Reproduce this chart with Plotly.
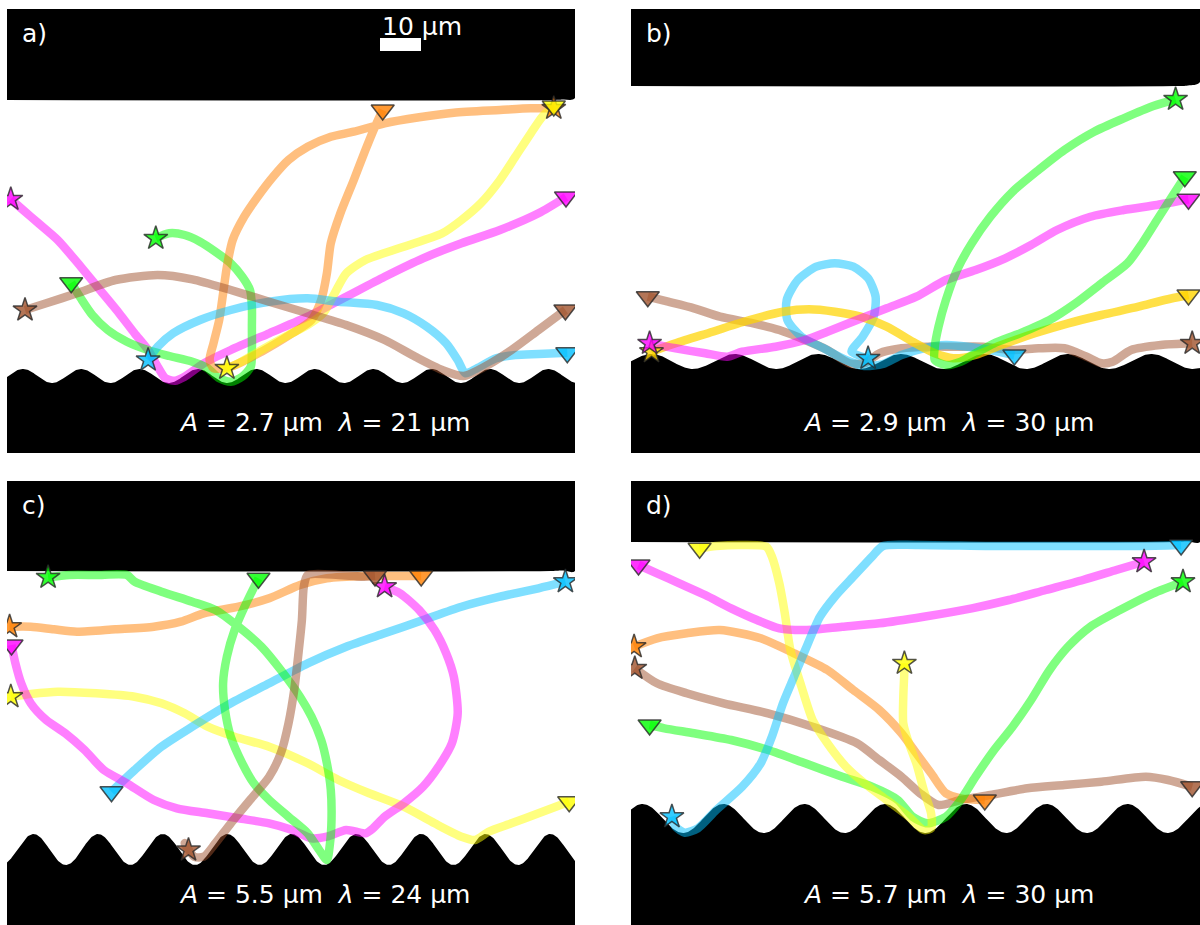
import numpy as np
import plotly.graph_objects as go

# ---------------------------------------------------------------------------
# Bacterial swimming tracks between a flat wall (top) and a corrugated wall
# (bottom).  Track coordinates are micrograph pixels inside each panel
# (x to the right, y downward).  First point = start (star), last = end (triangle).
# ---------------------------------------------------------------------------

PANEL_LABELS = ["a)", "b)", "c)", "d)"]
AMPLITUDES_UM = [2.7, 2.9, 5.5, 5.7]
WAVELENGTHS_UM = [21, 30, 24, 30]
SCALE_BAR_UM = 10
PX_PER_UM = 4.1

# ---- panel a --------------------------------------------------------------
a_magenta_x = [3.8, 16.1, 31.5, 50.7, 73.8, 93.0, 112.2, 127.6, 141.1, 150.7, 158.4, 168.0, 177.6, 196.8, 223.8, 262.2, 300.7, 339.2, 377.6, 416.0, 454.5, 493.0, 531.5, 559.0]
a_magenta_y = [190.3, 201.0, 214.3, 231.0, 257.7, 281.0, 304.3, 324.3, 341.0, 357.7, 369.3, 371.7, 367.7, 354.3, 341.0, 324.3, 307.7, 287.7, 267.7, 249.3, 234.3, 221.0, 204.3, 188.0]
a_green_x = [148.8, 162.2, 177.6, 193.0, 208.4, 223.8, 235.3, 243.0, 244.9, 244.9, 244.9, 243.8, 235.3, 223.8, 212.2, 200.7, 185.3, 162.2, 143.0, 119.9, 100.7, 85.3, 73.8, 64.2]
a_green_y = [229.3, 224.3, 226.0, 232.7, 242.7, 254.3, 267.7, 281.0, 297.7, 317.7, 341.0, 357.7, 367.7, 372.7, 369.3, 359.3, 352.7, 347.0, 341.7, 332.7, 321.0, 306.0, 289.3, 273.7]
a_orange_x = [546.8, 523.8, 493.0, 446.8, 412.2, 377.6, 346.8, 323.8, 300.7, 281.5, 266.1, 250.7, 237.2, 225.7, 219.9, 216.1, 212.2, 206.5, 202.6, 206.5, 223.8, 254.5, 285.3, 304.5, 314.2, 319.9, 323.8, 333.4, 346.8, 358.4, 368.0, 375.7]
a_orange_y = [99.3, 99.3, 101.0, 103.7, 108.3, 114.3, 122.7, 127.7, 137.7, 151.0, 167.7, 187.7, 207.7, 231.0, 257.7, 284.3, 311.0, 334.3, 351.0, 359.3, 357.7, 342.7, 324.3, 311.0, 291.0, 264.3, 234.3, 204.3, 171.0, 141.0, 117.7, 101.0]
a_yellow_x = [219.9, 231.5, 254.5, 281.5, 300.7, 316.1, 327.6, 339.2, 358.4, 396.8, 435.3, 454.5, 473.8, 493.0, 508.4, 523.8, 535.3, 546.8]
a_yellow_y = [359.3, 354.3, 341.0, 326.0, 316.0, 304.3, 284.3, 264.3, 251.0, 237.7, 224.3, 211.0, 194.3, 171.0, 147.7, 124.3, 107.7, 97.0]
a_cyan_x = [141.1, 150.7, 166.1, 193.0, 223.8, 262.2, 300.7, 331.5, 369.9, 396.8, 419.9, 439.2, 450.7, 458.4, 469.9, 489.2, 508.4, 531.5, 560.3]
a_cyan_y = [351.0, 337.7, 324.3, 311.0, 301.0, 292.7, 289.3, 292.7, 296.0, 304.3, 317.7, 334.3, 351.0, 364.3, 359.3, 349.3, 346.0, 345.0, 343.7]
a_brown_x = [18.0, 39.2, 69.9, 108.4, 150.7, 185.3, 223.8, 262.2, 300.7, 339.2, 377.6, 408.4, 435.3, 456.5, 477.6, 504.5, 531.5, 558.4]
a_brown_y = [301.0, 294.3, 284.3, 271.0, 266.0, 270.3, 281.0, 292.7, 304.3, 316.0, 331.0, 347.7, 361.0, 367.0, 357.7, 341.0, 321.0, 301.0]

# ---- panel b --------------------------------------------------------------
b_brown_x = [561.2, 529.7, 500.1, 481.6, 470.5, 455.7, 433.4, 407.5, 381.6, 352.0, 322.3, 296.4, 270.5, 248.3, 233.4, 218.6, 196.4, 174.2, 148.3, 122.3, 89.0, 63.1, 37.1, 16.8]
b_brown_y = [334.3, 336.0, 341.0, 352.7, 354.3, 347.7, 339.3, 339.3, 341.0, 337.7, 337.7, 337.7, 339.3, 344.3, 354.3, 354.3, 341.0, 331.0, 321.0, 314.3, 307.7, 299.3, 292.7, 287.7]
b_cyan_x = [237.1, 220.5, 231.6, 242.7, 244.6, 237.1, 222.3, 203.8, 185.3, 166.8, 155.7, 156.4, 170.5, 192.7, 214.9, 233.4, 252.0, 270.5, 292.7, 314.9, 337.1, 359.4, 383.4]
b_cyan_y = [349.3, 342.7, 327.7, 307.7, 287.7, 269.3, 257.7, 254.3, 257.7, 271.0, 291.0, 311.0, 327.7, 339.3, 351.0, 357.0, 355.0, 346.0, 339.3, 336.0, 337.7, 341.0, 346.0]
b_yellow_x = [20.5, 44.6, 81.6, 118.6, 152.0, 177.9, 203.8, 229.7, 255.7, 281.6, 303.8, 322.3, 344.6, 370.5, 403.8, 437.1, 470.5, 507.5, 533.4, 557.5]
b_yellow_y = [342.7, 334.3, 322.7, 311.0, 302.7, 300.3, 302.7, 307.7, 317.7, 332.7, 344.3, 349.3, 346.0, 336.0, 324.3, 314.3, 306.0, 297.7, 291.0, 286.0]
b_magenta_x = [18.6, 44.6, 74.2, 96.4, 111.2, 144.6, 174.2, 196.4, 226.0, 255.7, 285.3, 314.9, 344.6, 374.2, 400.1, 426.0, 459.4, 492.7, 526.0, 557.5]
b_magenta_y = [334.3, 339.3, 344.3, 347.7, 342.7, 337.7, 331.0, 322.7, 311.0, 299.3, 287.7, 271.0, 261.0, 249.3, 236.0, 221.0, 207.7, 201.0, 196.0, 190.3]
b_green_x = [544.6, 522.3, 492.7, 463.1, 433.4, 407.5, 381.6, 359.4, 340.8, 326.0, 314.9, 307.5, 303.8, 303.8, 314.9, 329.7, 344.6, 363.1, 389.0, 418.6, 444.6, 470.5, 496.4, 511.2, 526.0, 540.9, 553.8]
b_green_y = [90.3, 97.0, 109.3, 122.7, 141.0, 161.0, 182.7, 207.7, 234.3, 261.0, 291.0, 317.7, 337.7, 351.0, 356.0, 352.7, 344.3, 334.3, 324.3, 311.0, 294.3, 274.3, 254.3, 234.3, 211.0, 187.7, 167.7]

# ---- panel c --------------------------------------------------------------
c_orange_x = [2.6, 23.8, 46.8, 69.9, 108.4, 146.8, 173.8, 196.8, 231.5, 262.2, 293.0, 319.9, 358.4, 396.8, 414.2]
c_orange_y = [145.7, 145.7, 148.3, 150.7, 148.3, 145.7, 140.7, 132.3, 125.7, 117.3, 104.0, 97.3, 95.0, 95.0, 95.0]
c_yellow_x = [3.8, 23.8, 50.7, 89.2, 127.6, 154.5, 177.6, 200.7, 227.6, 262.2, 300.7, 331.5, 362.2, 396.8, 427.6, 454.5, 468.0, 481.5, 504.5, 531.5, 562.2]
c_yellow_y = [215.7, 213.0, 210.7, 212.3, 215.7, 222.3, 232.3, 245.7, 255.7, 265.7, 282.3, 299.0, 312.3, 325.7, 342.3, 355.7, 359.0, 350.7, 342.3, 332.3, 320.7]
c_cyan_x = [558.4, 531.5, 493.0, 454.5, 416.1, 377.6, 339.2, 300.7, 262.2, 223.8, 185.3, 154.5, 127.6, 104.5]
c_cyan_y = [100.7, 107.3, 115.7, 125.7, 139.0, 152.3, 165.7, 182.3, 202.3, 222.3, 245.7, 265.7, 289.0, 310.7]
c_magenta_x = [377.6, 393.0, 412.2, 427.6, 439.2, 446.8, 450.7, 444.9, 431.5, 416.1, 396.8, 377.6, 366.1, 358.4, 339.2, 319.9, 304.5, 285.3, 262.2, 231.5, 200.7, 169.9, 146.8, 119.9, 96.8, 77.6, 58.4, 39.2, 23.8, 14.2, 8.4, 4.5]
c_magenta_y = [105.7, 112.3, 129.0, 149.0, 172.3, 195.7, 232.3, 262.3, 285.7, 305.7, 322.3, 335.7, 347.3, 352.3, 349.0, 355.7, 357.3, 349.0, 342.3, 337.3, 332.3, 327.3, 319.0, 302.3, 289.0, 269.0, 252.3, 239.0, 222.3, 202.3, 182.3, 164.0]
c_green_x = [41.1, 62.2, 89.2, 119.9, 127.6, 154.5, 185.3, 208.4, 231.5, 254.5, 273.8, 293.0, 304.5, 314.2, 319.9, 323.8, 324.5, 323.0, 319.9, 312.2, 300.7, 281.5, 262.2, 246.8, 235.3, 223.8, 218.0, 216.1, 219.9, 227.6, 239.2, 251.5]
c_green_y = [96.3, 94.0, 94.0, 94.0, 100.7, 110.7, 120.7, 129.0, 145.7, 165.7, 189.0, 215.7, 235.7, 259.0, 282.3, 309.0, 339.0, 362.3, 379.0, 369.0, 352.3, 335.7, 319.0, 302.3, 282.3, 255.7, 229.0, 202.3, 175.7, 149.0, 122.3, 97.3]
c_brown_x = [181.5, 177.6, 187.2, 196.8, 208.4, 223.8, 243.0, 262.2, 273.8, 281.5, 287.2, 291.1, 294.9, 296.8, 300.7, 331.5, 354.5, 368.0]
c_brown_y = [369.0, 362.3, 375.7, 375.7, 362.3, 342.3, 319.0, 295.7, 272.3, 242.3, 209.0, 175.7, 139.0, 105.7, 94.0, 94.0, 95.7, 95.0]

# ---- panel d --------------------------------------------------------------
d_brown_x = [3.8, 26.0, 55.7, 92.7, 137.1, 181.6, 226.0, 248.3, 270.5, 289.0, 307.5, 329.7, 359.4, 396.4, 433.4, 470.5, 514.9, 537.1, 561.2]
d_brown_y = [187.3, 202.3, 212.3, 222.3, 232.3, 245.7, 262.3, 279.0, 295.7, 312.3, 324.0, 319.0, 314.0, 307.3, 304.0, 300.7, 295.7, 299.0, 305.7]
d_orange_x = [3.1, 26.0, 55.7, 89.0, 129.7, 163.1, 196.4, 222.3, 248.3, 270.5, 285.3, 300.1, 314.9, 329.7, 353.8]
d_orange_y = [165.7, 157.3, 152.3, 149.0, 157.3, 172.3, 189.0, 209.0, 229.0, 252.3, 272.3, 292.3, 312.3, 317.3, 319.0]
d_green_x = [552.0, 522.3, 489.0, 459.4, 437.1, 418.6, 400.1, 381.6, 363.1, 344.6, 329.7, 314.9, 296.4, 281.6, 266.8, 240.9, 211.2, 174.2, 137.1, 100.1, 63.1, 33.4, 18.6]
d_green_y = [100.7, 112.3, 129.0, 145.7, 165.7, 189.0, 219.0, 245.7, 269.0, 295.7, 319.0, 335.7, 342.3, 335.7, 319.0, 305.7, 295.7, 282.3, 269.0, 259.0, 252.3, 247.3, 244.0]
d_yellow_x = [273.4, 273.4, 272.3, 272.3, 277.9, 285.3, 292.7, 300.1, 300.1, 292.7, 277.9, 255.7, 233.4, 214.9, 196.4, 181.6, 170.5, 159.4, 153.8, 148.3, 140.9, 135.3, 111.2, 85.3, 68.6]
d_yellow_y = [182.3, 189.0, 215.7, 242.3, 262.3, 282.3, 309.0, 332.3, 347.3, 349.0, 335.7, 319.0, 302.3, 285.7, 262.3, 239.0, 205.7, 169.0, 132.3, 102.3, 75.7, 65.7, 64.0, 65.0, 67.3]
d_magenta_x = [513.1, 485.3, 452.0, 414.9, 377.9, 340.8, 292.7, 248.3, 211.2, 174.2, 148.3, 126.0, 100.1, 74.2, 48.3, 26.0, 7.5]
d_magenta_y = [80.7, 89.0, 99.0, 109.0, 119.0, 127.3, 135.7, 142.3, 145.7, 149.0, 147.3, 139.0, 127.3, 114.0, 102.3, 92.3, 84.0]
d_cyan_x = [40.9, 44.6, 53.8, 66.8, 85.3, 111.2, 129.7, 140.9, 152.0, 163.1, 174.2, 189.0, 203.8, 222.3, 240.9, 252.0, 285.3, 359.4, 433.4, 507.5, 550.1]
d_cyan_y = [335.7, 345.7, 351.7, 347.3, 329.0, 305.7, 282.3, 255.7, 222.3, 195.7, 169.0, 135.7, 115.7, 95.7, 75.7, 65.0, 64.0, 65.0, 65.0, 65.0, 64.0]

TRACKS = [
    [("magenta", a_magenta_x, a_magenta_y), ("green", a_green_x, a_green_y),
     ("orange", a_orange_x, a_orange_y), ("yellow", a_yellow_x, a_yellow_y),
     ("cyan", a_cyan_x, a_cyan_y), ("brown", a_brown_x, a_brown_y)],
    [("brown", b_brown_x, b_brown_y), ("cyan", b_cyan_x, b_cyan_y),
     ("gold", b_yellow_x, b_yellow_y), ("magenta", b_magenta_x, b_magenta_y),
     ("green", b_green_x, b_green_y)],
    [("orange", c_orange_x, c_orange_y), ("yellow", c_yellow_x, c_yellow_y),
     ("cyan", c_cyan_x, c_cyan_y), ("magenta", c_magenta_x, c_magenta_y),
     ("green", c_green_x, c_green_y), ("brown", c_brown_x, c_brown_y)],
    [("brown", d_brown_x, d_brown_y), ("orange", d_orange_x, d_orange_y),
     ("green", d_green_x, d_green_y), ("yellow", d_yellow_x, d_yellow_y),
     ("magenta", d_magenta_x, d_magenta_y), ("cyan", d_cyan_x, d_cyan_y)],
]

# ---- styling / geometry -----------------------------------------------------
RGB = {
    "magenta": (255, 0, 255),
    "green": (0, 255, 0),
    "orange": (255, 128, 0),
    "yellow": (255, 255, 0),
    "gold": (255, 212, 0),
    "cyan": (0, 191, 255),
    "brown": (160, 82, 45),
}
LINE_ALPHA = {"gold": 0.72}

FIG_W, FIG_H = 1200, 925
# panel boxes in page pixels: left, right, top, bottom
BOXES = [(7, 575, 9, 453), (631, 1200, 9, 453), (7, 575, 481, 925), (631, 1200, 481, 925)]
# walls drawn in panel pixels: flat-wall edge, corrugation centre, half height, period, trough x
WALLS = [
    dict(edge=91, edge_end=89, centre=367.0, half=7.0, period=58.4, trough=45.0),
    dict(edge=77, edge_end=73, centre=352.5, half=7.5, period=83.3, trough=62.0),
    dict(edge=90, edge_end=90, centre=368.5, half=15.5, period=64.6, trough=58.8),
    dict(edge=61, edge_end=61, centre=337.5, half=14.5, period=80.8, trough=52.0),
]

FONT = "DejaVu Sans"
fig = go.Figure()

for i, (box, wall) in enumerate(zip(BOXES, WALLS)):
    left, right, top, bottom = box
    W, H = right - left, bottom - top
    xa = "x" if i == 0 else f"x{i + 1}"
    ya = "y" if i == 0 else f"y{i + 1}"
    suffix = "" if i == 0 else str(i + 1)

    fig.layout[f"xaxis{suffix}"] = dict(
        domain=[left / FIG_W, right / FIG_W], range=[0, W], visible=False,
        showgrid=False, zeroline=False, anchor=ya, fixedrange=True)
    fig.layout[f"yaxis{suffix}"] = dict(
        domain=[1 - bottom / FIG_H, 1 - top / FIG_H], range=[H, 0], visible=False,
        showgrid=False, zeroline=False, anchor=xa, fixedrange=True)

    # flat top wall (edge bends up slightly at the right-hand end)
    tx = [0, W, W, W - 12, W - 24, 0]
    ty = [0, 0, wall["edge_end"], wall["edge"] - 0.5, wall["edge"], wall["edge"]]
    fig.add_trace(go.Scatter(x=tx, y=ty, fill="toself", fillcolor="black",
                             mode="lines", line=dict(width=0, color="black", shape="spline"),
                             hoverinfo="skip", showlegend=False, xaxis=xa, yaxis=ya))

    # corrugated bottom wall
    wx = np.linspace(0, W, 700)
    wy = wall["centre"] + wall["half"] * np.cos(2 * np.pi * (wx - wall["trough"]) / wall["period"])
    bx = np.concatenate([wx, [W, 0]])
    by = np.concatenate([wy, [H + 2, H + 2]])
    fig.add_trace(go.Scatter(x=bx, y=by, fill="toself", fillcolor="black",
                             mode="lines", line=dict(width=0, color="black"),
                             hoverinfo="skip", showlegend=False, xaxis=xa, yaxis=ya))

    # track lines
    for name, x, y in TRACKS[i]:
        r, g, b = RGB[name]
        alpha = LINE_ALPHA.get(name, 0.5)
        fig.add_trace(go.Scatter(
            x=x, y=y, mode="lines",
            line=dict(color=f"rgba({r},{g},{b},{alpha})", width=8.5, shape="spline", smoothing=0.7),
            hoverinfo="skip", showlegend=False, xaxis=xa, yaxis=ya))

    # start (star) and end (triangle) markers
    for name, x, y in TRACKS[i]:
        r, g, b = RGB[name]
        fill = f"rgba({r},{g},{b},0.8)"
        fig.add_trace(go.Scatter(
            x=[x[0]], y=[y[0]], mode="markers",
            marker=dict(symbol="star", size=18, color=fill,
                        line=dict(color="rgba(40,40,40,0.8)", width=1.5)),
            hoverinfo="skip", showlegend=False, xaxis=xa, yaxis=ya))
        fig.add_trace(go.Scatter(
            x=[x[-1]], y=[y[-1]], mode="markers",
            marker=dict(symbol="triangle-down", size=20, color=fill,
                        line=dict(color="rgba(40,40,40,0.8)", width=1.5)),
            hoverinfo="skip", showlegend=False, xaxis=xa, yaxis=ya))

    # panel letter
    fig.add_annotation(x=13, y=24, xref=xa, yref=ya, text=PANEL_LABELS[i],
                       showarrow=False, xanchor="left", yanchor="middle",
                       font=dict(family=FONT, size=25, color="white"))

    # wall parameters
    label = (f"<i>A</i> = {AMPLITUDES_UM[i]} μm\u00a0\u00a0"
             f"<i>λ</i> = {WAVELENGTHS_UM[i]} μm")
    fig.add_annotation(x=317, y=413, xref=xa, yref=ya, text=label,
                       showarrow=False, xanchor="center", yanchor="middle",
                       font=dict(family=FONT, size=25, color="white"))

# scale bar in panel a
bar_x0 = 373
fig.add_shape(type="rect", xref="x", yref="y",
              x0=bar_x0, x1=bar_x0 + SCALE_BAR_UM * PX_PER_UM, y0=29, y1=42,
              fillcolor="white", line=dict(width=0))
fig.add_annotation(x=bar_x0, y=17, xref="x", yref="y", text=f"{SCALE_BAR_UM} μm",
                   showarrow=False, xanchor="left", yanchor="middle",
                   font=dict(family=FONT, size=25, color="white"))

fig.update_layout(width=FIG_W, height=FIG_H, margin=dict(l=0, r=0, t=0, b=0),
                  paper_bgcolor="white", plot_bgcolor="white", showlegend=False)

fig.write_html("out.html")
